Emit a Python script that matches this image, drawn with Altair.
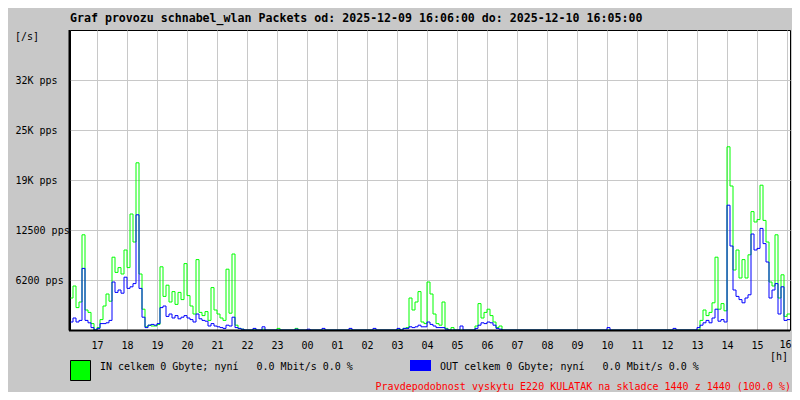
import altair as alt
import pandas as pd

# ---- data (values in packets per second, one value per 6-minute step starting 16:06) ----
in_values = [
    4000, 5500, 2800, 3500, 11900, 2500, 2200, 800, 0,                # 16:06-17:00
    300, 1300, 3000, 4500, 3600, 9100, 7200, 7800, 7000, 10000,        # 17
    7800, 14500, 11000, 20900, 7000, 2600, 400, 600, 500, 500,         # 18
    700, 7900, 4200, 5600, 3500, 4800, 3200, 4700, 3800, 8300,         # 19
    4300, 3000, 2000, 8800, 2200, 1800, 2300, 1200, 5300, 2500,        # 20
    2000, 1500, 1200, 7600, 2100, 9500, 600, 200, 100, 0,              # 21
    0, 0, 100, 0, 0, 100, 0, 0, 0, 0,                                  # 22
    200, 0, 0, 0, 0, 0, 200, 0, 0, 0,                                  # 23
    0, 0, 0, 0, 0, 0, 0, 0, 0, 0,                                      # 00
    0, 0, 0, 0, 0, 0, 0, 0, 0, 0,                                      # 01
    0, 0, 0, 0, 0, 0, 0, 0, 0, 0,                                      # 02
    100, 0, 200, 300, 4000, 2500, 3500, 4800, 1000, 800,               # 03
    6000, 4500, 2000, 800, 600, 3500, 200, 0, 300, 0,                  # 04
    0, 0, 0, 0, 0, 0, 500, 3300, 1500, 2200,                           # 05
    2600, 1800, 1000, 300, 500, 0, 0, 0, 0, 0,                         # 06
    0, 0, 0, 0, 0, 0, 0, 0, 0, 0,                                      # 07
    0, 0, 0, 0, 0, 0, 0, 0, 0, 0,                                      # 08
    0, 0, 0, 0, 0, 0, 0, 0, 0, 0,                                      # 09
    0, 0, 0, 0, 0, 0, 0, 0, 0, 0,                                      # 10
    0, 0, 0, 0, 0, 0, 0, 0, 0, 0,                                      # 11
    0, 0, 0, 0, 0, 0, 0, 0, 0, 0,                                      # 12
    0, 1200, 2500, 1800, 2200, 3400, 9100, 2600, 3300, 2400,           # 13
    22900, 18000, 7500, 10000, 6500, 8800, 6500, 9400, 14800, 13500,   # 14
    13800, 18100, 13700, 11000, 6000, 5500, 11900, 4000, 6900, 1700,   # 15
    2000,                                                              # 16:00-16:06
]
out_values = [
    1000, 1500, 1000, 1200, 7700, 1200, 900, 300, 0,
    200, 800, 800, 900, 1200, 6000, 4700, 5000, 4600, 6600,
    5200, 5400, 5800, 14400, 5200, 1600, 300, 600, 700, 600,
    800, 2800, 3000, 1700, 2000, 1500, 1800, 1400, 1600, 1800,
    1500, 1300, 1000, 2000, 1400, 1200, 1100, 500, 800, 500,
    400, 300, 200, 600, 500, 1600, 300, 200, 100, 0,
    0, 0, 200, 0, 0, 400, 0, 0, 0, 0,
    0, 0, 0, 0, 0, 0, 100, 0, 0, 0,
    100, 0, 0, 0, 0, 200, 0, 0, 0, 0,
    0, 0, 0, 0, 200, 0, 0, 0, 0, 0,
    0, 0, 200, 0, 0, 0, 0, 0, 0, 0,
    200, 0, 200, 200, 400, 300, 400, 600, 400, 400,
    1000, 700, 500, 300, 300, 300, 100, 0, 0, 0,
    0, 500, 0, 0, 0, 0, 200, 600, 900, 800,
    1000, 900, 600, 200, 100, 0, 0, 0, 0, 0,
    0, 0, 0, 0, 0, 0, 0, 0, 0, 0,
    0, 0, 0, 0, 0, 0, 0, 0, 0, 0,
    0, 0, 0, 0, 0, 0, 0, 0, 0, 0,
    300, 0, 0, 0, 0, 0, 0, 0, 0, 0,
    0, 0, 0, 0, 0, 0, 0, 0, 0, 0,
    0, 0, 200, 0, 0, 0, 0, 0, 0, 0,
    300, 600, 900, 1200, 900, 1500, 2600, 1100, 1300, 1000,
    15600, 10500, 5000, 4200, 3800, 3400, 4000, 4400, 12000, 10000,
    10200, 12700, 10800, 8500, 4000, 5000, 5800, 2000, 5400, 1200,
    1300,
]
step_minutes = 6
hour_ticks = [54 + 60 * k for k in range(24)]            # 17:00 ... 16:00
y_ticks = [6250, 12500, 18750, 25000, 31250]
y_tick_labels = ["6200 pps", "12500 pps", "19K pps", "25K pps", "32K pps"]

NB = "\u00a0"
title_text = "Graf provozu schnabel_wlan Packets od: 2025-12-09 16:06:00 do: 2025-12-10 16:05:00"
in_legend = "IN celkem 0 Gbyte; nyní" + NB * 3 + "0.0 Mbit/s 0.0 %"
out_legend = "OUT celkem 0 Gbyte; nyní" + NB * 3 + "0.0 Mbit/s 0.0 %"
red_note = "Pravdepodobnost vyskytu E220 KULATAK na skladce 1440 z 1440 (100.0 %)"

GREEN = "#00ff00"
BLUE = "#0000ff"
FONT = "DejaVu Sans Mono"


def series_frame(values):
    m = [step_minutes * i for i in range(len(values))] + [1440]
    v = list(values) + [values[-1]]
    return pd.DataFrame({"m": m, "v": v})


df_in = series_frame(in_values)
df_out = series_frame(out_values)
one = pd.DataFrame({"a": [0]})

label_expr = " : ".join(
    f"datum.value == {v} ? '{t}'" for v, t in zip(y_ticks, y_tick_labels)
) + " : ''"

last_tick = hour_ticks[-1]
x_enc = alt.X(
    "m:Q",
    scale=alt.Scale(domain=[0, 1440], nice=False, zero=False),
    axis=alt.Axis(
        values=hour_ticks, tickCount=48, title=None, grid=True, ticks=False, domain=False,
        labelExpr=f"datum.value == {last_tick} ? '' : format(floor((datum.value + 966) / 60) % 24, '02d')",
        labelFlush=False, labelPadding=10, labelOverlap=False,
    ),
)
y_enc = alt.Y(
    "v:Q",
    scale=alt.Scale(domain=[0, 37500], nice=False),
    axis=alt.Axis(
        values=y_ticks, tickCount=20, title=None, grid=True, ticks=False, domain=False,
        labelExpr=label_expr, labelAlign="left", labelPadding=55,
        labelFlush=False, labelOverlap=False,
    ),
)

line_in = alt.Chart(df_in).mark_line(
    interpolate="step-after", color=GREEN, strokeWidth=1
).encode(x=x_enc, y=y_enc)
line_out = alt.Chart(df_out).mark_line(
    interpolate="step-after", color=BLUE, strokeWidth=1
).encode(x="m:Q", y="v:Q")

border_left = alt.Chart(one).mark_rule(color="black", strokeWidth=2).encode(
    x=alt.value(-0.5), y=alt.value(0), y2=alt.value(300.5)
)
border_bottom = alt.Chart(one).mark_rule(color="black", strokeWidth=2).encode(
    x=alt.value(-1), x2=alt.value(720), y=alt.value(300.5)
)


def txt(s, x, y, align="left", color="black", size=10, weight="normal", baseline="middle"):
    return alt.Chart(one).mark_text(
        align=align, baseline=baseline, font=FONT, fontSize=size,
        color=color, fontWeight=weight,
    ).encode(x=alt.value(x), y=alt.value(y), text=alt.value(s))


title = txt(title_text, 0, -11, size=11.6, weight="bold")
unit_y = txt("[/s]", -55, 7)
unit_x = txt("[h]", 700, 327)
last_label = txt("16", 715.5, 310, align="center", baseline="top")
leg_in_box = alt.Chart(one).mark_rect(color=GREEN, stroke="black", strokeWidth=1).encode(
    x=alt.value(0.5), x2=alt.value(20.5), y=alt.value(330.5), y2=alt.value(350.5)
)
leg_out_box = alt.Chart(one).mark_rect(color=BLUE).encode(
    x=alt.value(340), x2=alt.value(361), y=alt.value(330), y2=alt.value(341)
)
leg_in_text = txt(in_legend, 30, 337)
leg_out_text = txt(out_legend, 370, 337)
note = txt(red_note, 721, 357, align="right", color="#ff0000")

chart = alt.layer(
    line_in, line_out, border_left, border_bottom,
    title, unit_y, unit_x, last_label,
    leg_in_box, leg_out_box, leg_in_text, leg_out_text, note,
).properties(
    width=720, height=300,
    autosize=alt.AutoSizeParams(type="none"),
    padding={"left": 62, "top": 22, "right": 2, "bottom": 62},
    background="#c8c8c8",
).configure_view(
    fill="white", stroke="black", strokeWidth=1,
).configure_axis(
    gridColor="#c8c8c8", gridWidth=1, gridOpacity=1,
    labelFont=FONT, labelFontSize=10, labelColor="black",
)

chart.save("out.html", embed_options={"renderer": "svg", "actions": False})
